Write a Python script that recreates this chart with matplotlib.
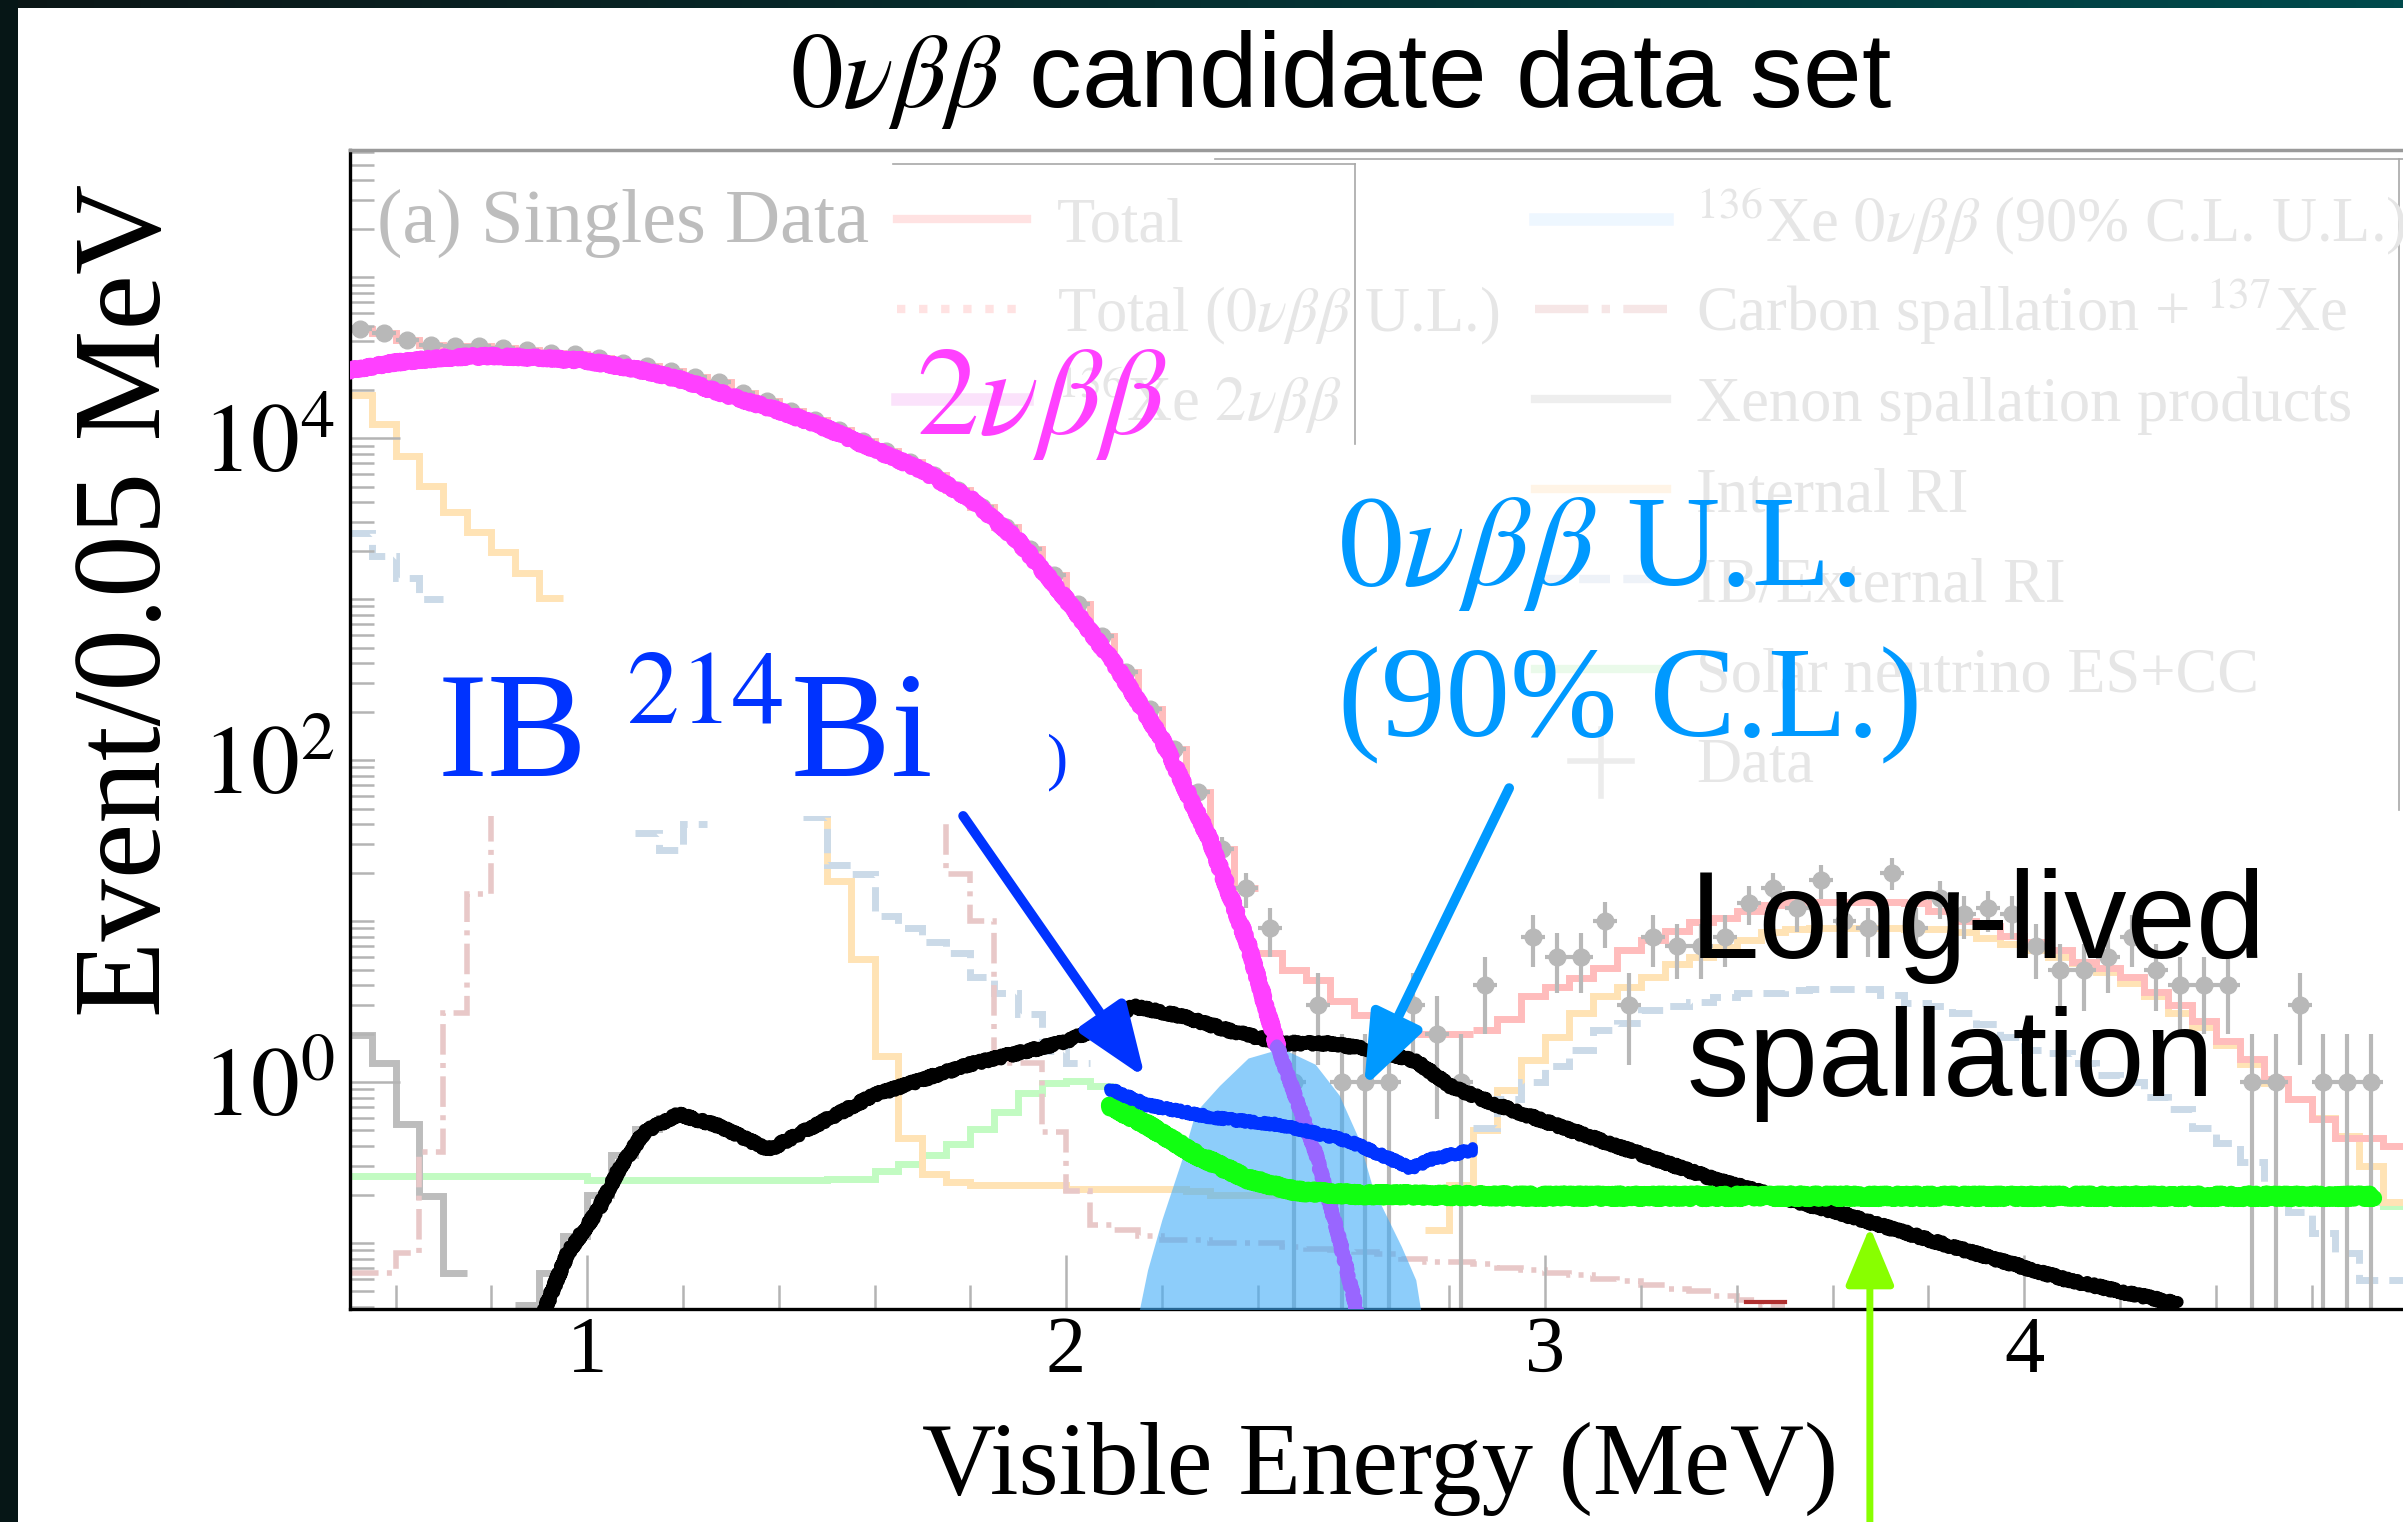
import numpy as np
import matplotlib
matplotlib.use("Agg")
import matplotlib.pyplot as plt
from matplotlib import ticker
from matplotlib.colors import LinearSegmentedColormap
from matplotlib.lines import Line2D
from matplotlib.patches import Rectangle

plt.rcParams['mathtext.fontset'] = 'stix'
plt.rcParams['font.family'] = ['Liberation Serif', 'DejaVu Serif']

W, H = 2403, 1522
BIN = 0.05

# ---- singles data, events per 0.05 MeV (first bin 0.50-0.55 MeV)
data_start = 0.50
data_counts = [47900, 44700, 40700, 38000, 37200, 37200, 36300, 35500, 33900, 33100,
               31600, 29500, 28200, 26300, 24000, 22400, 19100, 17000, 14800, 12900,
               11200, 9550, 8300, 7080, 5890, 4790, 3720, 2820, 2040, 1410,
               933, 589, 355, 209, 117, 63, 28, 16, 9, 1,
               3, 1, 1, 1, 3, 2, 1, 4, 0, 8,
               6, 6, 10, 3, 8, 7, 7, 8, 13, 16,
               12, 18, 10, 9, 20, 9, 14, 11, 12, 11,
               7, 5, 5, 6, 8, 5, 4, 4, 4, 1,
               1, 3, 1, 1, 1, 0]

# ---- best-fit total
total_mid_start = 2.40
total_mid = [6.3, 5.0, 4.3, 3.2, 2.6, 2.1, 2.0, 2.0, 2.0]
total_hi_start = 2.85
total_hi = [2.1, 2.45, 3.4, 3.9, 4.4, 5.1, 6.6, 7.6, 8.7, 9.8,
            10.5, 11.5, 12.6, 13.2, 13.2, 13.2, 13.2, 13.2, 12.9, 11.5,
            10.0, 9.3, 8.1, 7.4, 6.6, 5.6, 5.1, 4.5, 3.6, 3.0,
            2.4, 1.8, 1.4, 1.05, 0.79, 0.59, 0.45, 0.45, 0.40]

# ---- internal RI
irs_lo_start = 0.50
irs_lo = [18600, 12300, 7760, 5010, 3470, 2630, 1950, 1450, 1020]
irs_mid_start = 1.45
irs_mid = [55, 17.8, 5.8, 1.45, 0.45, 0.27, 0.24, 0.23, 0.23, 0.23,
           0.23, 0.215, 0.215, 0.215, 0.215, 0.215, 0.21, 0.2, 0.2, 0.2,
           0.2, 0.2, 0.2, 0.2, 0.2, 0.2]
irs_hi_start = 2.75
irs_hi = [0.12, 0.23, 0.5, 0.89, 1.38, 1.9, 2.7, 3.4, 3.9, 4.5,
          5.4, 6.0, 6.9, 7.6, 8.5, 8.9, 9.1, 9.1, 9.1, 9.1,
          8.9, 8.9, 8.5, 7.8, 7.2, 6.6, 6.0, 5.5, 4.8, 4.1,
          3.4, 2.7, 2.2, 1.7, 1.3, 0.98, 0.78, 0.60, 0.46, 0.30, 0.18]

# ---- IB / external RI
ibx_lo_start = 0.50
ibx_lo = [2570, 1860, 1350, 1000]
ibx_dip_start = 1.10
ibx_dip = [35, 27.5, 40]
ibx_mid_start = 1.45
ibx_mid = [44, 22.4, 19.5, 10.7, 9.1, 7.4, 6.3, 4.5, 3.55, 2.63, 1.55, 1.32]
ibx_hi_start = 2.85
ibx_hi = [0.52, 0.79, 1.0, 1.26, 1.58, 2.09, 2.34, 2.82, 2.95, 3.16,
          3.39, 3.55, 3.55, 3.72, 3.80, 3.80, 3.80, 3.47, 3.09, 2.95,
          2.69, 2.29, 1.91, 1.58, 1.51, 1.32, 1.10, 1.0, 0.81, 0.68,
          0.52, 0.42, 0.32, 0.21, 0.155, 0.115, 0.087, 0.059, 0.059]

# ---- solar neutrino ES+CC
solar_start = 0.50
solar = [0.26, 0.26, 0.26, 0.26, 0.26, 0.26, 0.26, 0.26, 0.26, 0.26,
         0.245, 0.245, 0.245, 0.245, 0.245, 0.245, 0.245, 0.245, 0.245, 0.245,
         0.25, 0.25, 0.28, 0.31, 0.35, 0.41, 0.51, 0.65, 0.85, 0.98, 1.02, 0.95]
solar_tail_start = 4.70
solar_tail = [0.18, 0.17]

# ---- xenon spallation products
xesp_lo_start = 0.50
xesp_lo = [1.95, 1.32, 0.55, 0.195, 0.065]
xesp_mid_start = 0.85
xesp_mid = [0.041, 0.065, 0.11, 0.20, 0.35, 0.51, 0.60]

# ---- carbon spallation + 137Xe
carb_lo_start = 0.50
carb_lo = [0.065, 0.065, 0.087, 0.37, 2.7, 14.8, 150]
carb_hi_start = 1.70
carb_hi = [60, 19.5, 10, 1.32, 1.32, 0.49, 0.21, 0.13, 0.12, 0.11,
           0.105, 0.105, 0.10, 0.10, 0.10, 0.095, 0.092, 0.09, 0.088, 0.085,
           0.08, 0.076, 0.076, 0.074, 0.07, 0.068, 0.065, 0.063, 0.06, 0.058,
           0.055, 0.052, 0.05, 0.047, 0.044, 0.041]
xe137_e = [3.42, 3.50]
xe137_v = [0.043, 0.043]

# ---- highlighted components
tnbb_e = [0.50, 0.60, 0.70, 0.80, 0.90, 1.00, 1.10, 1.20, 1.30, 1.40, 1.50, 1.60,
          1.70, 1.80, 1.90, 2.00, 2.10, 2.20, 2.30, 2.38, 2.44, 2.52, 2.56, 2.61]
tnbb_v = [26300, 29500, 31600, 32400, 31600, 30200, 26900, 22900, 18200, 14800, 11500, 8500,
          6300, 4200, 2300, 1000, 400, 135, 32, 7.1, 1.7, 0.37, 0.14, 0.035]

longlived_e = [0.90, 0.96, 1.02, 1.07, 1.12, 1.19, 1.27, 1.38, 1.45, 1.60, 1.80, 2.00, 2.07, 2.14,
               2.24, 2.34, 2.45, 2.55, 2.66, 2.73, 2.80, 2.90, 3.11, 3.36, 3.60, 3.85, 4.09, 4.32]
longlived_v = [0.032, 0.087, 0.155, 0.30, 0.49, 0.63, 0.54, 0.38, 0.49, 0.83, 1.29, 1.78, 2.19, 2.95,
               2.57, 2.09, 1.74, 1.74, 1.55, 1.35, 0.95, 0.72, 0.44, 0.245, 0.158, 0.095, 0.059, 0.042]

bi214_e = [2.09, 2.17, 2.31, 2.45, 2.59, 2.69, 2.72, 2.76, 2.85]
bi214_v = [0.91, 0.72, 0.60, 0.54, 0.43, 0.32, 0.29, 0.33, 0.38]

solar_hl_e = [2.09, 2.17, 2.27, 2.38, 2.48, 2.60, 3.00, 3.50, 4.00, 4.50, 4.73]
solar_hl_v = [0.72, 0.54, 0.355, 0.25, 0.21, 0.20, 0.195, 0.195, 0.195, 0.195, 0.195]

onbb_e = [2.14, 2.17, 2.20, 2.24, 2.27, 2.32, 2.38, 2.45, 2.52, 2.57, 2.61, 2.64, 2.70, 2.73, 2.75]
onbb_v = [0.025, 0.068, 0.14, 0.32, 0.65, 0.95, 1.41, 1.62, 1.29, 0.83, 0.45, 0.22, 0.095, 0.059, 0.025]


def fx(px):
    return px / W


def fy(py):
    return 1 - py / H


def steps(ax, start, vals, **kw):
    edges = start + BIN * np.arange(len(vals) + 1)
    ax.stairs(vals, edges, baseline=None, **kw)


fig = plt.figure(figsize=(W / 100, H / 100), dpi=100)
fig.patch.set_facecolor('white')

ax = fig.add_axes([fx(350), fy(1309), 1 - fx(350), fy(150) - fy(1309)])
ax.set_yscale('log')
ax.set_xlim(0.505, 4.791)
ax.set_ylim(10 ** -1.41, 10 ** 5.79)

# faded fit components
pale = dict(lw=5, zorder=1)
steps(ax, solar_start, solar, color='#c2fbc2', **pale)
steps(ax, solar_tail_start, solar_tail, color='#c2fbc2', **pale)
for s, v in [(xesp_lo_start, xesp_lo), (xesp_mid_start, xesp_mid)]:
    steps(ax, s, v, color='#bdbdbd', **pale)
for s, v in [(irs_lo_start, irs_lo), (irs_mid_start, irs_mid), (irs_hi_start, irs_hi)]:
    steps(ax, s, v, color='#ffe3b5', **pale)
for s, v in [(ibx_lo_start, ibx_lo), (ibx_dip_start, ibx_dip),
             (ibx_mid_start, ibx_mid), (ibx_hi_start, ibx_hi)]:
    steps(ax, s, v, color='#cbdae8', ls=(0, (3.5, 1.6)), **pale)
for s, v in [(carb_lo_start, carb_lo), (carb_hi_start, carb_hi)]:
    steps(ax, s, v, color='#e8c8c8', lw=4, ls=(0, (5.5, 1.5, 0.9, 1.5)), zorder=1)
ax.plot(xe137_e, xe137_v, color='#b03030', lw=3, zorder=1)

counts = np.array(data_counts, dtype=float)
centers = data_start + BIN / 2 + BIN * np.arange(len(counts))
steps(ax, data_start, counts[:38], color='#ffbcbc', **pale)
steps(ax, total_mid_start, total_mid, color='#ffbcbc', **pale)
steps(ax, total_hi_start, total_hi, color='#ffbcbc', **pale)

# data points
ok = counts > 0
n = counts[ok]
err_hi = np.sqrt(n)
err_lo = np.minimum(np.sqrt(n), n - 1e-3)
ax.errorbar(centers[ok], n, yerr=[err_lo, err_hi], xerr=BIN / 2, fmt='o', ms=12,
            color='#b8b8b8', ecolor='#b8b8b8', elinewidth=3, capsize=0, zorder=1.5)

# label patch
ax.add_patch(Rectangle((0.012, 0.425), 0.334, 0.18, transform=ax.transAxes,
                       facecolor='white', edgecolor='none', zorder=2))

# highlighted curves
ax.fill_between(onbb_e, onbb_v, 1e-3, color='#41acf7', alpha=0.6, lw=0, zorder=3)

ll, = ax.plot(longlived_e, longlived_v, color='black', lw=8.5, solid_capstyle='round', zorder=4)
split = 21
t1, = ax.plot(tnbb_e[:split], tnbb_v[:split], color='#ff40ff', lw=10,
              solid_capstyle='round', zorder=5)
t2, = ax.plot(tnbb_e[split - 1:], tnbb_v[split - 1:], color='#9966ff', lw=8,
              solid_capstyle='round', zorder=5)
g1, = ax.plot(solar_hl_e, solar_hl_v, color='#11ff11', lw=12, solid_capstyle='round', zorder=6)
b1, = ax.plot(bi214_e, bi214_v, color='#0033ff', lw=7.5, solid_capstyle='round', zorder=6.5)
for line in (ll, t1, t2, g1, b1):
    line.set_sketch_params(scale=2.5, length=3, randomness=3)

# arrows
ax.annotate('', xy=(2.165, 1.06), xytext=(1.785, 45),
            arrowprops=dict(arrowstyle='-|>,head_length=1.1,head_width=0.42',
                            color='#0033ff', lw=7, mutation_scale=40,
                            shrinkA=0, shrinkB=0), zorder=7)
ax.annotate('', xy=(2.622, 0.93), xytext=(2.925, 67),
            arrowprops=dict(arrowstyle='-|>,head_length=1.1,head_width=0.42',
                            color='#0099ff', lw=7, mutation_scale=40,
                            shrinkA=0, shrinkB=0), zorder=7)
ax.annotate('', xy=(3.678, 0.126), xytext=(3.678, 0.0),
            textcoords=('data', 'figure fraction'),
            arrowprops=dict(arrowstyle='-|>,head_length=1.2,head_width=0.5',
                            color='#88ff00', lw=5, mutation_scale=30,
                            shrinkA=0, shrinkB=0), zorder=7, annotation_clip=False)

# axes styling
for side in ('left', 'bottom'):
    ax.spines[side].set_color('black')
    ax.spines[side].set_linewidth(2.4)
ax.spines['top'].set_color('#9a9a9a')
ax.spines['top'].set_linewidth(2.5)
ax.spines['right'].set_visible(False)

ax.xaxis.set_major_locator(ticker.FixedLocator([1, 2, 3, 4]))
ax.xaxis.set_minor_locator(ticker.MultipleLocator(0.2))
ax.xaxis.set_major_formatter(ticker.FuncFormatter(lambda v, p: '%d' % v))
ax.yaxis.set_major_locator(ticker.FixedLocator([1, 1e2, 1e4]))
ax.yaxis.set_minor_locator(ticker.LogLocator(base=10, subs=np.arange(1, 10), numticks=40))
ax.yaxis.set_minor_formatter(ticker.NullFormatter())
ax.yaxis.set_major_formatter(ticker.FuncFormatter(
    lambda v, p: r'$10^{%d}$' % round(np.log10(v))))
ax.tick_params(which='both', direction='in', color='#b4b4b4', width=1.8,
               top=False, right=False)
ax.tick_params(axis='x', which='major', length=39, pad=5, labelsize=58)
ax.tick_params(axis='x', which='minor', length=17)
ax.tick_params(axis='y', which='major', length=36, pad=11, labelsize=70)
ax.tick_params(axis='y', which='minor', length=17)

fig.text(fx(130), fy(600), 'Event/0.05 MeV', rotation=90, ha='center', va='center',
         fontsize=90)
fig.text(fx(1380), fy(1494), 'Visible Energy (MeV)', ha='center', va='baseline',
         fontsize=74)
fig.text(fx(1341), fy(107), r'$0\nu\beta\beta$ candidate data set', ha='center',
         va='baseline', fontsize=76, family=['Liberation Sans', 'DejaVu Sans'])

# faded legend
legend_grey = '#e6e6e6'
fig.text(fx(377), fy(242), '(a) Singles Data', fontsize=55, color='#bdbdbd', va='baseline')
left_entries = [('Total', dict(color='#ffe2e2', lw=6)),
                (r'Total ($0\nu\beta\beta$ U.L.)', dict(color='#ffe2e2', lw=6, ls=':')),
                (r'$^{136}$Xe $2\nu\beta\beta$', dict(color='#fbe2fb', lw=9))]
right_entries = [(r'$^{136}$Xe $0\nu\beta\beta$ (90% C.L. U.L.)', dict(color='#eef7ff', lw=9)),
                 (r'Carbon spallation + $^{137}$Xe', dict(color='#f6e6e6', lw=6, ls='-.')),
                 ('Xenon spallation products', dict(color='#eeeeee', lw=6)),
                 ('Internal RI', dict(color='#fff4e6', lw=6)),
                 ('IB/External RI', dict(color='#eef2f8', lw=6, ls='--')),
                 ('Solar neutrino ES+CC', dict(color='#eafaea', lw=6)),
                 ('Data', None)]
for i, (label, style) in enumerate(left_entries):
    base = 241 + 90 * i
    fig.add_artist(Line2D([fx(897), fx(1027)], [fy(base - 22)] * 2, **style))
    fig.text(fx(1057), fy(base), label, fontsize=45, color=legend_grey, va='baseline')
for i, (label, style) in enumerate(right_entries):
    base = 241 + 90 * i
    if style is None:
        fig.add_artist(Line2D([fx(1570), fx(1632)], [fy(base - 20)] * 2, color='#ececec', lw=4))
        fig.add_artist(Line2D([fx(1601)] * 2, [fy(base - 52), fy(base + 15)], color='#ececec', lw=4))
    else:
        fig.add_artist(Line2D([fx(1535), fx(1667)], [fy(base - 22)] * 2, **style))
    fig.text(fx(1696), fy(base), label, fontsize=45, color=legend_grey, va='baseline')
box_kw = dict(color='#a8a8a8', lw=1.2)
fig.add_artist(Line2D([fx(893), fx(1355)], [fy(164)] * 2, **box_kw))
fig.add_artist(Line2D([fx(1355)] * 2, [fy(164), fy(444)], **box_kw))
fig.add_artist(Line2D([fx(1215), fx(2403)], [fy(159)] * 2, **box_kw))
fig.add_artist(Line2D([fx(2399)] * 2, [fy(159), fy(810)], **box_kw))

# annotations
fig.text(fx(916), fy(434), r'$2\nu\beta\beta$', fontsize=90, color='#ff40ff', va='baseline')
fig.text(fx(1338), fy(585), r'$0\nu\beta\beta$ U.L.', fontsize=93, color='#0099ff',
         va='baseline')
fig.text(fx(1338), fy(736), '(90% C.L.)', fontsize=93, color='#0099ff', va='baseline')
fig.text(fx(437), fy(777), r'IB $^{214}$Bi', fontsize=108, color='#0033ff', va='baseline')
fig.text(fx(1047), fy(777), ')', fontsize=46, color='#0033ff', va='baseline')
sans = ['Liberation Sans', 'DejaVu Sans']
fig.text(fx(1690), fy(958), 'Long-lived', fontsize=90, family=sans, va='baseline')
fig.text(fx(1686), fy(1096), 'spallation', fontsize=90, family=sans, va='baseline')

# slide frame
frame = fig.add_axes([0, fy(8), 1, 8 / H])
frame.imshow(np.linspace(0, 1, 256)[None, :], aspect='auto',
             cmap=LinearSegmentedColormap.from_list('frame', ['#0b1616', '#004a4c']))
frame.axis('off')
fig.add_artist(Rectangle((0, 0), fx(18), 1, transform=fig.transFigure,
                         facecolor='#061616', edgecolor='none', zorder=10))

fig.savefig('out.png', dpi=100, facecolor='white')
